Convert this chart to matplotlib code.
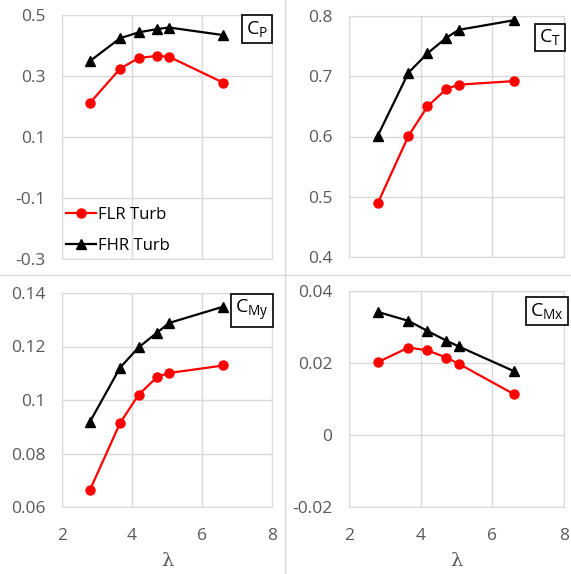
import matplotlib
matplotlib.use("Agg")
from matplotlib import pyplot as plt
from matplotlib.lines import Line2D

plt.rcParams['font.family'] = ['Open Sans', 'DejaVu Sans']

# tip speed ratio
lam = [2.8, 3.66, 4.19, 4.72, 5.06, 6.61]

cp_flr = [0.212, 0.324, 0.359, 0.366, 0.363, 0.278]
cp_fhr = [0.349, 0.424, 0.443, 0.454, 0.459, 0.434]

ct_flr = [0.489, 0.601, 0.650, 0.679, 0.686, 0.692]
ct_fhr = [0.601, 0.706, 0.738, 0.764, 0.777, 0.793]

cmy_flr = [0.0664, 0.0914, 0.1020, 0.1086, 0.1101, 0.1129]
cmy_fhr = [0.0919, 0.1121, 0.1197, 0.1252, 0.1288, 0.1349]

cmx_flr = [0.0202, 0.0243, 0.0235, 0.0215, 0.0198, 0.0113]
cmx_fhr = [0.0342, 0.0317, 0.0289, 0.0262, 0.0246, 0.0177]

W, H = 571, 574
fig = plt.figure(figsize=(W / 100, H / 100), dpi=100)

grid_c = '#d9d9d9'
tick_c = '#595959'


def panel(px, flr, fhr, yticks, ylabels, tag, tagpos, xlab):
    l, r, t, b = px
    ax = fig.add_axes([l / W, (H - b) / H, (r - l) / W, (b - t) / H])
    ax.plot(lam, flr, color='red', marker='o', ms=6.5, lw=1.6, label='FLR Turb', zorder=3)
    ax.plot(lam, fhr, color='black', marker='^', ms=7, lw=1.6, label='FHR Turb', zorder=3)
    ax.set_xlim(2, 8)
    ax.set_ylim(yticks[0], yticks[-1])
    ax.set_xticks([2, 4, 6, 8])
    ax.set_yticks(yticks)
    ax.set_yticklabels(ylabels)
    ax.grid(True, color=grid_c, lw=1)
    for s in ax.spines.values():
        s.set_color(grid_c)
    ax.tick_params(length=0, colors=tick_c, labelsize=12.5)
    ax.tick_params(axis='y', pad=12)
    ax.tick_params(axis='x', pad=15)
    if xlab:
        ax.set_xlabel('λ', fontsize=14, color=tick_c, family='DejaVu Serif', labelpad=6)
    else:
        ax.set_xticklabels([])
    ax.text(tagpos[0], tagpos[1], tag, transform=ax.transAxes, ha='center', va='center',
            fontsize=14, color='black', zorder=5,
            bbox=dict(boxstyle='square,pad=0.2', fc='white', ec='black', lw=1.2))
    return ax


ax1 = panel((62, 272, 15, 259), cp_flr, cp_fhr, [-0.3, -0.1, 0.1, 0.3, 0.5],
            ['-0.3', '-0.1', '0.1', '0.3', '0.5'], r'C$\mathregular{_P}$', (0.929, 0.943), False)
ax2 = panel((349, 564, 16, 257), ct_flr, ct_fhr, [0.4, 0.5, 0.6, 0.7, 0.8],
            ['0.4', '0.5', '0.6', '0.7', '0.8'], r'C$\mathregular{_T}$', (0.935, 0.911), False)
ax3 = panel((62, 272, 293, 507), cmy_flr, cmy_fhr, [0.06, 0.08, 0.10, 0.12, 0.14],
            ['0.06', '0.08', '0.1', '0.12', '0.14'], r'C$\mathregular{_{My}}$', (0.905, 0.918), True)
ax4 = panel((349, 564, 291, 507), cmx_flr, cmx_fhr, [-0.02, 0.0, 0.02, 0.04],
            ['-0.02', '0', '0.02', '0.04'], r'C$\mathregular{_{Mx}}$', (0.921, 0.907), True)

ax1.legend(loc='lower left', frameon=False, fontsize=12, handlelength=1.8,
           handletextpad=0.1, borderaxespad=0.1, labelspacing=0.9,
           bbox_to_anchor=(-0.02, -0.015))

# chart borders between the four panels
fig.add_artist(Line2D([285 / W, 285 / W], [0, 1], color=grid_c, lw=1))
fig.add_artist(Line2D([0, 1], [(H - 275) / H, (H - 275) / H], color=grid_c, lw=1))

fig.savefig('out.png', dpi=100, facecolor='white')
